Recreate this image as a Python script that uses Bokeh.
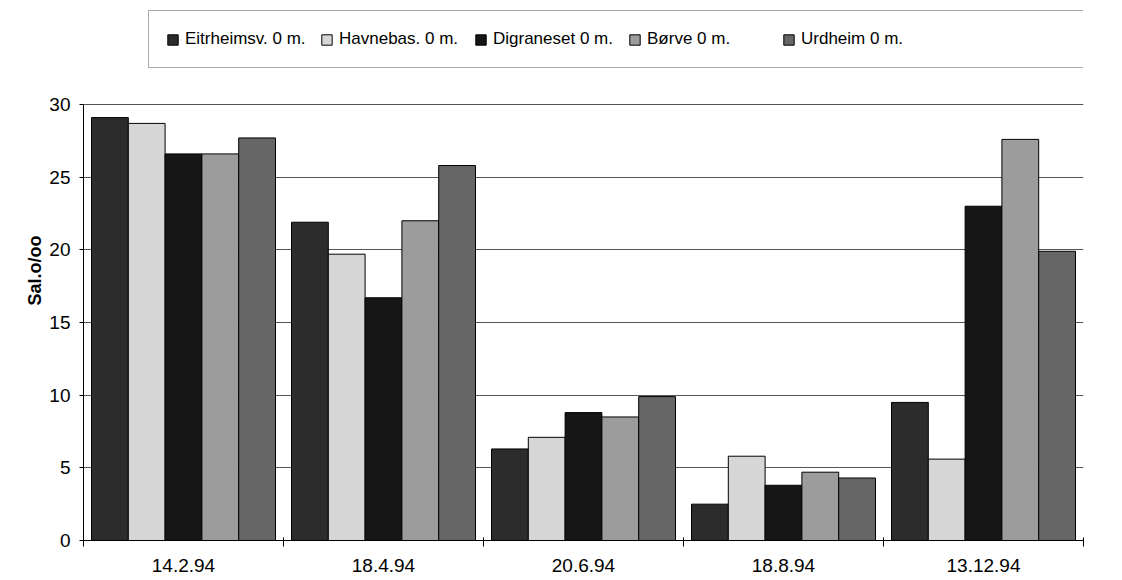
from bokeh.plotting import figure
from bokeh.models import Range1d, FixedTicker, Legend, LegendItem, ColumnDataSource
from bokeh.embed import file_html
from bokeh.resources import INLINE

# ---- data ----
dates = ["14.2.94", "18.4.94", "20.6.94", "18.8.94", "13.12.94"]
series_names = ["Eitrheimsv. 0 m.", "Havnebas. 0 m.", "Digraneset 0 m.", "Børve 0 m.", "Urdheim 0 m."]
eitrheim = [29.1, 21.9, 6.3, 2.5, 9.5]
havnebas = [28.7, 19.7, 7.1, 5.8, 5.6]
digraneset = [26.6, 16.7, 8.8, 3.8, 23.0]
borve = [26.6, 22.0, 8.5, 4.7, 27.6]
urdheim = [27.7, 25.8, 9.9, 4.3, 19.9]
y_ticks = [0, 5, 10, 15, 20, 25, 30]
y_label = "Sal.o/oo"

values = [eitrheim, havnebas, digraneset, borve, urdheim]
colors = ["#2c2c2c", "#d6d6d6", "#161616", "#9c9c9c", "#666666"]

FONT = "Liberation Sans"
bar_w = 0.184

# layout (pixels): frame spans the full height above the x axis, so the legend
# box at the top sits inside the frame; the value axis itself is bounded to 0..30
W, H = 1122, 580
frame_left, frame_right, frame_bottom = 83, 1083, 540
axis_top_px = 104
y_max = y_ticks[-1]
y_top = y_max * frame_bottom / (frame_bottom - axis_top_px)

p = figure(width=W, height=H, output_backend="svg", toolbar_location=None,
           x_range=Range1d(0, len(dates)), y_range=Range1d(0, y_top),
           min_border_left=frame_left, min_border_right=W - frame_right,
           min_border_top=0, min_border_bottom=H - frame_bottom)
p.outline_line_color = None
p.background_fill_color = "white"
p.border_fill_color = "white"

items = []
n = len(values)
for j, (name, vals, col) in enumerate(zip(series_names, values, colors)):
    xs = [i + 0.5 + (j - (n - 1) / 2) * bar_w for i in range(len(dates))]
    src = ColumnDataSource(dict(x=xs, top=vals, cat=dates))
    r = p.vbar(x="x", top="top", bottom=0, width=bar_w, source=src,
               fill_color=col, line_color="black", line_width=1)
    items.append(LegendItem(label=name, renderers=[r]))

# empty spacer entry to extend the legend box to the right as in the original
dummy = p.vbar(x=[], top=[], width=bar_w, fill_alpha=0, line_alpha=0)
items.append(LegendItem(label=" ", renderers=[dummy]))

legend = Legend(items=items, orientation="horizontal",
                location=(148 - frame_left, frame_bottom - 68),
                label_text_font=FONT, label_text_font_size="17px", label_text_color="black",
                glyph_width=13, glyph_height=13, label_standoff=6, label_width=131,
                spacing=4, padding=17, label_height=22, margin=0,
                border_line_color="#555555", border_line_width=1,
                background_fill_color="white", background_fill_alpha=1)
p.add_layout(legend)

# x axis: labels at group centres, ticks at group boundaries
centers = [i + 0.5 for i in range(len(dates))]
p.xaxis.ticker = FixedTicker(ticks=centers, minor_ticks=list(range(len(dates) + 1)))
p.xaxis.major_label_overrides = {c: d for c, d in zip(centers, dates)}
p.xaxis.major_tick_line_color = None
p.xaxis.minor_tick_line_color = "black"
p.xaxis.minor_tick_out = 6
p.xaxis.minor_tick_in = 3
p.xaxis.axis_line_color = "black"
p.xaxis.major_label_text_font = FONT
p.xaxis.major_label_text_font_size = "19px"
p.xaxis.major_label_text_color = "black"
p.xaxis.major_label_standoff = 12

p.yaxis.bounds = (0, y_max)
p.yaxis.ticker = FixedTicker(ticks=y_ticks)
p.yaxis.major_tick_out = 4
p.yaxis.major_tick_in = 0
p.yaxis.minor_tick_line_color = None
p.yaxis.axis_line_color = "black"
p.yaxis.major_label_text_font = FONT
p.yaxis.major_label_text_font_size = "19px"
p.yaxis.major_label_text_color = "black"
p.yaxis.major_label_standoff = 9
p.yaxis.axis_label = y_label
p.yaxis.axis_label_text_font = FONT
p.yaxis.axis_label_text_font_size = "18px"
p.yaxis.axis_label_text_font_style = "bold"
p.yaxis.axis_label_text_color = "black"
p.yaxis.axis_label_standoff = 1

p.xgrid.visible = False
p.ygrid.ticker = FixedTicker(ticks=y_ticks)
p.ygrid.grid_line_color = "#555555"
p.ygrid.grid_line_width = 1

open("out.html", "w").write(file_html(p, INLINE))
